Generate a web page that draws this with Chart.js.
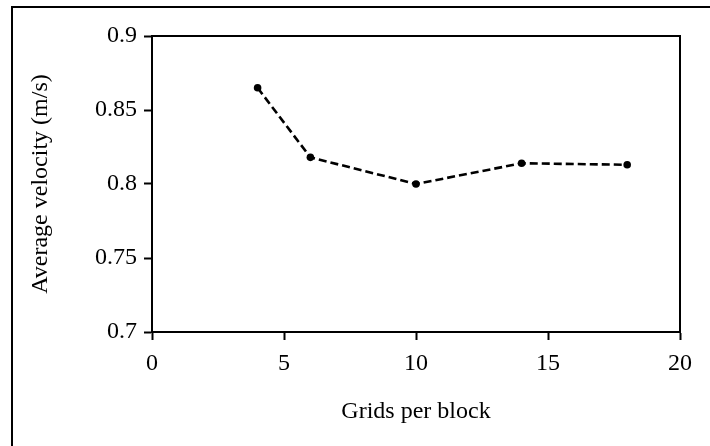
<!DOCTYPE html>
<html>
<head>
<meta charset="utf-8">
<script src="https://cdn.jsdelivr.net/npm/chart.js@4/dist/chart.umd.min.js"></script>
<style>
  html, body { margin: 0; padding: 0; background: #fff; }
  canvas { display: block; }
</style>
</head>
<body>
<canvas id="c" width="710" height="446"></canvas>
<script>
// data
const gridsPerBlock = [4, 6, 10, 14, 18];
const avgVelocity   = [0.865, 0.818, 0.800, 0.814, 0.813];
const xTickLabels   = ['0', '5', '10', '15', '20'];
const yTickLabels   = ['0.7', '0.75', '0.8', '0.85', '0.9'];

const FONT = "'Liberation Serif', 'Times New Roman', serif";
const INK = '#000';

// outer frame (left + top) and the plot box top/right edges
const framePlugin = {
  id: 'frame',
  afterDraw(chart) {
    const { ctx, chartArea: a } = chart;
    ctx.save();
    ctx.strokeStyle = INK;
    ctx.lineWidth = 2;
    ctx.beginPath();
    ctx.moveTo(12, 446); ctx.lineTo(12, 7); ctx.lineTo(710, 7);
    ctx.moveTo(a.left, a.top); ctx.lineTo(a.right, a.top); ctx.lineTo(a.right, a.bottom);
    ctx.stroke();
    ctx.restore();
  },
};

new Chart(document.getElementById('c'), {
  type: 'scatter',
  data: {
    datasets: [{
      data: gridsPerBlock.map((x, i) => ({ x, y: avgVelocity[i] })),
      showLine: true,
      borderColor: INK,
      borderWidth: 2.6,
      borderDash: [8, 4],
      pointRadius: 3.8,
      pointBackgroundColor: INK,
      pointBorderWidth: 0,
    }],
  },
  options: {
    responsive: false,
    animation: false,
    layout: { padding: { left: 0, top: 36, right: 30, bottom: 0 } },
    plugins: { legend: { display: false }, tooltip: { enabled: false } },
    scales: {
      x: {
        type: 'linear', min: 0, max: 20,
        afterFit: (s) => { s.height = 114; },
        ticks: { stepSize: 5, color: INK, padding: 9, font: { family: FONT, size: 24 },
                 callback: (v, i) => xTickLabels[i] },
        grid: { drawOnChartArea: false, tickLength: 8, tickWidth: 2, tickColor: INK },
        border: { color: INK, width: 2 },
        title: { display: true, text: 'Grids per block', color: INK, padding: { bottom: 20 },
                 font: { family: FONT, size: 24 } },
      },
      y: {
        type: 'linear', min: 0.7, max: 0.9,
        afterFit: (s) => { s.width = 152; },
        ticks: { stepSize: 0.05, color: INK, padding: 7, font: { family: FONT, size: 24 },
                 callback: (v, i) => yTickLabels[i] },
        grid: { drawOnChartArea: false, tickLength: 8, tickWidth: 2, tickColor: INK },
        border: { color: INK, width: 2 },
        title: { display: true, text: 'Average velocity (m/s)', color: INK, padding: { top: 26 },
                 font: { family: FONT, size: 24 } },
      },
    },
  },
  plugins: [framePlugin],
});
</script>
</body>
</html>
